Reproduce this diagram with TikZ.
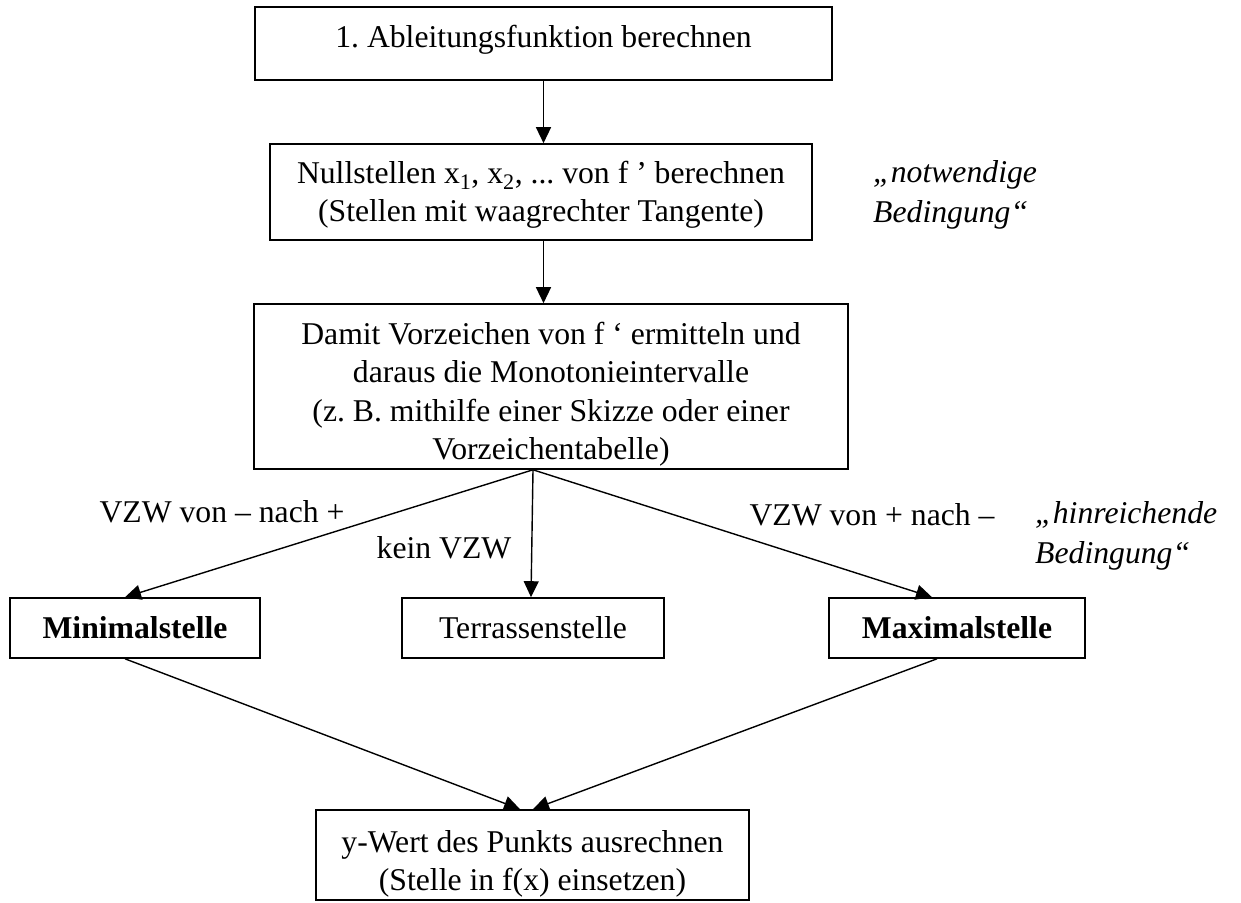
\documentclass[tikz,border=0pt]{standalone}
\usepackage{fontspec}
\setmainfont{Liberation Serif}
\usetikzlibrary{arrows.meta}
\frenchspacing
\begin{document}
\begin{tikzpicture}[x=1pt,y=-1pt,
  font=\fontsize{31.7}{38.5}\selectfont,
  box/.style={draw, line width=1.6pt, inner sep=0pt, align=center},
  arr/.style={line width=1.4pt, -{Triangle[length=16pt,width=15pt]}},
  lab/.style={inner sep=0pt, align=left}]
\useasboundingbox (0,0) rectangle (1241,902);
\node[box, minimum width=577pt, minimum height=73pt, text depth=14pt] (b1) at (543.5,43.5) {1. Ableitungsfunktion berechnen};
\node[box, minimum width=542pt, minimum height=96pt] (b2) at (541,192)
  {\rule{0pt}{28pt}Nullstellen x\textsubscript{1}, x\textsubscript{2}, ... von f ’ berechnen\\(Stellen mit waagrechter Tangente)};
\node[box, minimum width=594pt, minimum height=165pt] (b3) at (551,386.5)
  {\rule{0pt}{38pt}Damit Vorzeichen von f ‘ ermitteln und\\daraus die Monotonieintervalle\\(z. B. mithilfe einer Skizze oder einer\\Vorzeichentabelle)};
\node[box, minimum width=250pt, minimum height=60pt] (min) at (135,628) {\bfseries Minimalstelle};
\node[box, minimum width=262pt, minimum height=60pt] (ter) at (533,628) {Terrassenstelle};
\node[box, minimum width=256pt, minimum height=60pt] (max) at (957,628) {\bfseries Maximalstelle};
\node[box, minimum width=433pt, minimum height=90pt] (bot) at (532.5,855)
  {\rule{0pt}{40pt}y-Wert des Punkts ausrechnen\\(Stelle in f(x) einsetzen)};
\coordinate (br) at ([xshift=-18pt]b3.south);
\draw[arr] (b1.south) -- (b1.south |- b2.north);
\draw[arr] (b1.south |- b2.south) -- (b1.south |- b3.north);
\draw[arr] (br) -- ([xshift=-10pt]min.north);
\draw[arr] (br) -- ([xshift=-2pt]ter.north);
\draw[arr] (br) -- ([xshift=-25pt]max.north);
\draw[arr] ([xshift=-10pt]min.south) -- ([xshift=-12.5pt]bot.north);
\draw[arr] ([xshift=-20pt]max.south) -- ([xshift=0.5pt]bot.north);
\node[lab] (l1) at (222,512) {VZW von – nach +};
\node[lab] (l2) at (444,548) {kein VZW};
\node[lab] (l3) at (872,515) {VZW von + nach –};
\node[lab, anchor=west, font=\fontsize{31.7}{40}\selectfont\itshape] (n1) at (873,195) {„notwendige\\Bedingung“};
\node[lab, anchor=west, font=\fontsize{31.7}{40}\selectfont\itshape] (n2) at (1035,536) {„hinreichende\\Bedingung“};
\end{tikzpicture}
\end{document}
